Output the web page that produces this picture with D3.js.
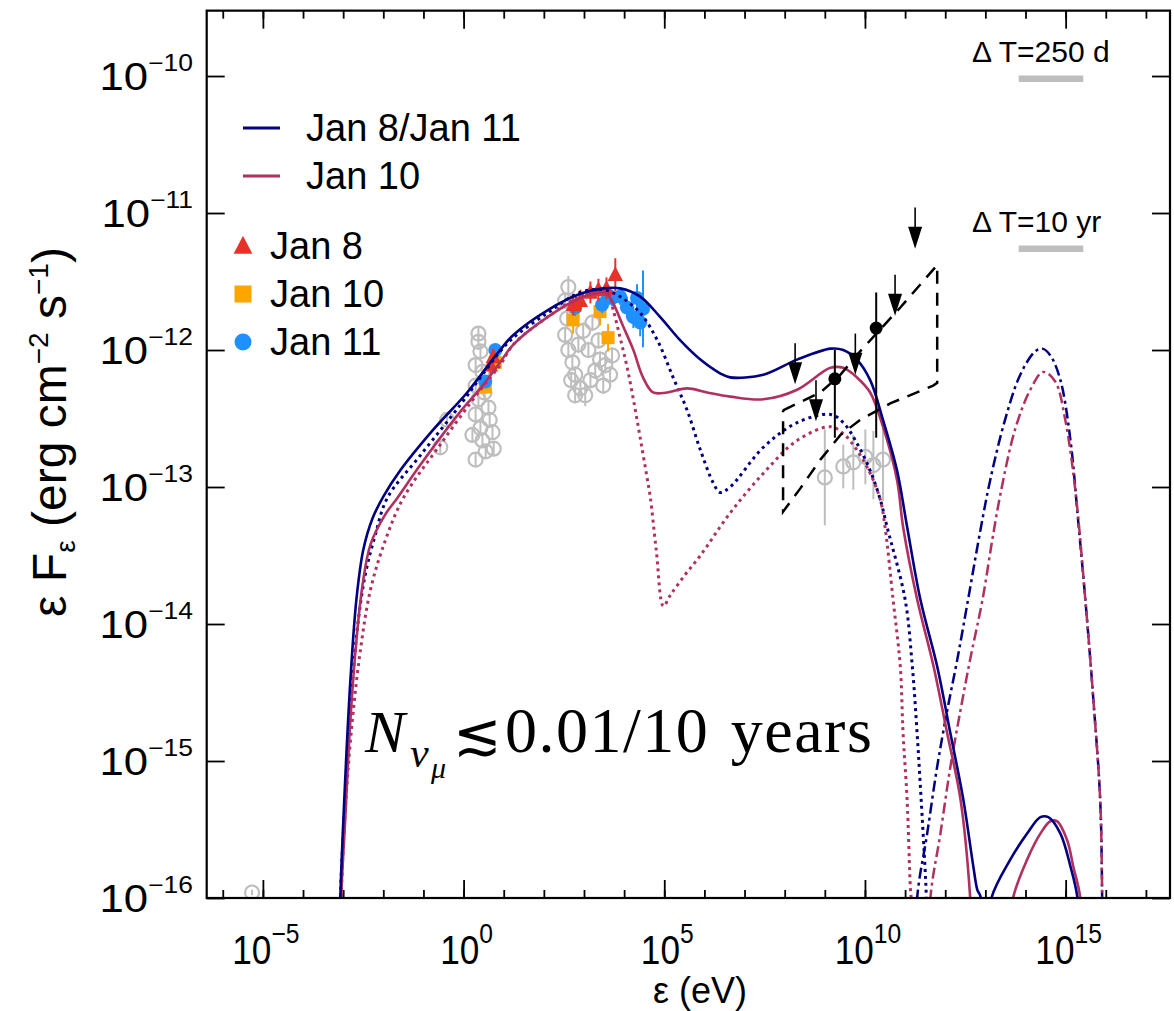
<!DOCTYPE html>
<html><head><meta charset="utf-8">
<script src="https://cdn.jsdelivr.net/npm/d3@7"></script>
<style>body{margin:0;background:#fff}</style>
</head><body>
<svg id="c" width="1174" height="1011"></svg>
<script>
// ---------- data (log10 E [eV], log10 eF [erg cm^-2 s^-1]) ----------
const xMajorExp = [-5, 0, 5, 10, 15];
const xMinorExp = d3.range(-6, 18);
const yMajorExp = [-16, -15, -14, -13, -12, -11, -10];

const navyTotal = [[-3.09,-16.5],[-3.07,-16.0],[-2.95,-15.14],[-2.82,-14.41],[-2.67,-13.82],[-2.50,-13.46],[-2.27,-13.23],[-2.00,-13.07],[-1.58,-12.88],[-0.75,-12.58],[0.09,-12.31],[0.91,-12.00],[1.24,-11.89],[2.09,-11.71],[2.91,-11.59],[3.48,-11.55],[3.90,-11.55],[4.40,-11.61],[4.90,-11.76],[5.40,-11.93],[5.90,-12.07],[6.39,-12.17],[6.64,-12.20],[7.47,-12.18],[8.31,-12.07],[9.14,-11.99],[9.46,-12.00],[9.80,-12.07],[10.13,-12.22],[10.45,-12.51],[10.80,-12.88],[11.05,-13.29],[11.38,-13.82],[11.80,-14.31],[12.13,-14.80],[12.45,-15.28],[12.70,-15.77],[12.80,-15.94],[12.88,-15.99],[12.95,-16.3],[13.05,-16.3],[13.15,-16.0],[13.62,-15.72],[14.04,-15.53],[14.37,-15.41],[14.57,-15.41],[14.87,-15.53],[15.12,-15.77],[15.29,-15.99],[15.36,-16.4]];
const navySync = [[-3.09,-16.5],[-3.07,-16.0],[-2.95,-15.28],[-2.82,-14.63],[-2.65,-14.04],[-2.45,-13.64],[-2.20,-13.35],[-1.90,-13.08],[-1.08,-12.77],[-0.08,-12.40],[0.42,-12.20],[0.91,-12.01],[1.24,-11.91],[2.09,-11.73],[2.91,-11.58],[3.48,-11.56],[3.90,-11.61],[4.40,-11.73],[4.83,-11.93],[5.22,-12.20],[5.57,-12.44],[5.90,-12.73],[6.22,-12.97],[6.39,-13.04],[6.64,-13.00],[7.47,-12.71],[8.31,-12.53],[9.14,-12.47],[9.46,-12.53],[9.80,-12.68],[10.13,-12.88],[10.38,-13.09],[10.55,-13.29],[11.00,-13.82],[11.18,-14.31],[11.30,-14.80],[11.40,-15.28],[11.50,-15.80],[11.53,-16.0],[11.56,-16.5]];
const maroonTotal = [[-3.07,-16.5],[-3.05,-16.0],[-2.95,-15.43],[-2.82,-14.70],[-2.67,-14.12],[-2.52,-13.72],[-2.32,-13.42],[-1.95,-13.20],[-1.65,-13.08],[-1.08,-12.84],[-0.08,-12.45],[0.42,-12.28],[0.91,-12.09],[1.24,-11.96],[2.09,-11.76],[2.91,-11.62],[3.48,-11.58],[3.60,-11.60],[3.73,-11.66],[3.98,-11.83],[4.23,-12.00],[4.47,-12.20],[4.72,-12.31],[5.07,-12.31],[5.57,-12.28],[6.07,-12.31],[6.64,-12.34],[7.47,-12.36],[8.31,-12.29],[9.14,-12.13],[9.46,-12.13],[9.80,-12.20],[10.13,-12.31],[10.45,-12.56],[10.80,-12.95],[10.95,-13.29],[11.30,-13.82],[11.71,-14.31],[12.05,-14.80],[12.38,-15.28],[12.62,-15.99],[12.66,-16.3],[13.6,-16.3],[13.69,-16.0],[14.04,-15.72],[14.37,-15.53],[14.62,-15.44],[14.79,-15.44],[15.04,-15.58],[15.19,-15.77],[15.36,-15.99],[15.42,-16.4]];
const maroonSync = [[-3.07,-16.5],[-3.05,-16.0],[-2.93,-15.28],[-2.77,-14.70],[-2.57,-14.19],[-2.32,-13.75],[-1.95,-13.39],[-1.50,-13.08],[-0.58,-12.69],[0.42,-12.29],[0.91,-12.11],[1.24,-11.96],[2.09,-11.76],[2.91,-11.61],[3.58,-11.58],[3.73,-11.71],[3.90,-11.91],[4.07,-12.12],[4.23,-12.36],[4.40,-12.64],[4.57,-12.93],[4.65,-13.07],[4.80,-13.46],[4.98,-13.87],[5.15,-13.79],[5.52,-13.64],[5.90,-13.50],[6.64,-13.19],[7.47,-12.90],[8.31,-12.66],[9.14,-12.56],[9.46,-12.61],[9.80,-12.73],[10.13,-12.90],[10.38,-13.09],[10.50,-13.29],[10.70,-13.82],[10.88,-14.31],[10.95,-14.80],[11.05,-15.28],[11.13,-15.92],[11.15,-16.0],[11.17,-16.5]];
const navyNu = [[11.28,-16.5],[11.30,-16.0],[11.55,-15.53],[11.80,-15.04],[12.05,-14.63],[12.30,-14.26],[12.57,-13.82],[12.88,-13.31],[13.12,-12.95],[13.49,-12.51],[13.87,-12.18],[14.24,-12.01],[14.42,-11.99],[14.62,-12.04],[14.87,-12.22],[15.12,-12.66],[15.31,-13.24],[15.49,-13.82],[15.69,-14.55],[15.86,-15.28],[15.91,-16.0],[15.92,-16.5]];
const maroonNu = [[11.61,-16.5],[11.63,-16.0],[11.88,-15.53],[12.13,-15.04],[12.38,-14.63],[12.62,-14.26],[12.93,-13.82],[13.17,-13.39],[13.37,-13.06],[13.74,-12.58],[14.12,-12.29],[14.44,-12.16],[14.74,-12.23],[14.99,-12.51],[15.24,-13.02],[15.49,-13.82],[15.69,-14.55],[15.86,-15.28],[15.91,-16.0],[15.92,-16.5]];

// butterfly (Fermi-LAT bowtie) boundaries, dashed black
const bowtieUpper = [[7.96,-12.44],[8.39,-12.38],[8.89,-12.31],[9.39,-12.18],[9.88,-12.01],[10.38,-11.85],[10.88,-11.69],[11.80,-11.38]];
const bowtieLower = [[7.96,-13.18],[8.39,-13.01],[8.89,-12.80],[9.39,-12.62],[9.88,-12.51],[10.63,-12.39],[11.70,-12.26],[11.80,-12.24]];

// archival data (grey open circles): [logE, logF, err]
const archival = [[-5.27,-15.96,0.02],[-0.58,-12.71,0.05],[-0.41,-12.51,0.05],[0.37,-11.88,0.05],[0.37,-11.94,0.05],[0.42,-12.01,0.05],[0.30,-12.11,0.05],[0.47,-12.16,0.05],[0.30,-12.26,0.05],[0.52,-12.31,0.05],[0.37,-12.36,0.05],[0.62,-12.42,0.05],[0.30,-12.47,0.05],[0.65,-12.51,0.05],[0.42,-12.57,0.05],[0.72,-12.60,0.05],[0.47,-12.66,0.05],[0.75,-12.72,0.05],[0.55,-12.74,0.05],[0.30,-12.80,0.05],[0.22,-12.62,0.05],
[2.61,-11.54,0.08],[2.53,-11.64,0.06],[2.58,-11.77,0.06],[2.53,-11.89,0.06],[2.61,-12.00,0.06],[2.71,-12.09,0.06],[2.78,-12.18,0.06],[2.91,-12.28,0.06],[3.03,-12.33,0.08],[3.16,-12.22,0.06],[3.28,-12.15,0.06],[3.40,-12.07,0.06],[3.53,-12.11,0.06],[3.65,-12.18,0.06],[3.70,-12.04,0.06],[3.11,-12.00,0.06],[2.86,-11.96,0.06],[3.36,-11.93,0.06],[2.98,-11.86,0.06],[3.21,-11.80,0.06],[2.78,-12.33,0.06],[3.48,-12.26,0.06],[2.68,-12.22,0.06],
[9.00,-12.93,0.35],[9.46,-12.85,0.16],[9.71,-12.82,0.2],[10.01,-12.78,0.2],[10.21,-12.84,0.25],[10.45,-12.80,0.3]];

// simultaneous data: [logE, logF, err]
const jan8 = [[0.67,-12.11,0.06],[0.74,-12.05,0.06],[2.73,-11.67,0.08],[2.91,-11.64,0.08],[3.16,-11.58,0.08],[3.36,-11.56,0.08],[3.56,-11.55,0.08],[3.78,-11.45,0.12]];
const jan10 = [[0.54,-12.27,0.05],[0.79,-12.09,0.05],[2.73,-11.78,0.1],[3.40,-11.72,0.1],[3.60,-11.91,0.1]];
const jan11 = [[0.54,-12.23,0.04],[0.79,-12.00,0.04],[2.78,-11.69,0.06],[3.45,-11.67,0.06],[3.58,-11.62,0.06],[3.70,-11.62,0.06],[3.90,-11.61,0.06],[4.07,-11.69,0.08],[4.23,-11.76,0.08],[4.32,-11.62,0.1],[4.40,-11.80,0.1],[4.47,-11.70,0.28]];

// LAT detections [logE, logF, logHi, logLo] and upper limits [logE, logF]
const latPoints = [[9.25,-12.21,-12.00,-12.64],[10.28,-11.84,-11.58,-12.64]];
const latUL = [[8.26,-11.95],[8.78,-12.22],[9.76,-11.88],[10.75,-11.45],[11.25,-10.96]];

// time-scale bars: [label, logE1, logE2, logF]
const dtBars = [["Δ T=250 d",13.83,15.44,-10.02],["Δ T=10 yr",13.83,15.44,-11.26]];

const curveLegend = [["Jan 8/Jan 11","#000080"],["Jan 10","#B03060"]];
const markerLegend = [["Jan 8","#E5332A","tri"],["Jan 10","#FFA500","sq"],["Jan 11","#1E90FF","circ"]];

// ---------- drawing ----------
const svg = d3.select("#c");
svg.append("rect").attr("width",1174).attr("height",1011).attr("fill","#fff");
const P = {l:206.7, r:1170, t:10.65, b:898};
const x = d3.scaleLog().domain([10**-6.4, 10**17.6]).range([P.l, P.r]);
const y = d3.scaleLog().domain([1e-16, 3e-10]).range([P.b, P.t]);
const X = e => x(10**e), Y = f => y(10**f);
const FONT = "'Liberation Sans', Arial, Helvetica, sans-serif";

svg.append("clipPath").attr("id","clip").append("rect")
  .attr("x",P.l).attr("y",P.t).attr("width",P.r-P.l).attr("height",P.b-P.t);

const plot = svg.append("g").attr("clip-path","url(#clip)");
const line = d3.line().x(d=>X(d[0])).y(d=>Y(d[1])).curve(d3.curveCatmullRom.alpha(0.5));

// archival grey
const gA = plot.append("g");
archival.forEach(d=>{
  gA.append("line").attr("x1",X(d[0])).attr("x2",X(d[0])).attr("y1",Y(d[1]+d[2])).attr("y2",Y(d[1]-d[2]))
    .attr("stroke","#BEBEBE").attr("stroke-width",2);
});
archival.forEach(d=>{
  gA.append("circle").attr("cx",X(d[0])).attr("cy",Y(d[1])).attr("r",7)
    .attr("fill","none").attr("stroke","#BEBEBE").attr("stroke-width",2.2);
});

// colored data
function marker(g, type, cx, cy, color, s){
  if(type==="tri") g.append("path").attr("d",`M${cx},${cy-s*0.6}L${cx+s*0.55},${cy+s*0.45}L${cx-s*0.55},${cy+s*0.45}Z`).attr("fill",color);
  else if(type==="sq") g.append("rect").attr("x",cx-s/2).attr("y",cy-s/2).attr("width",s).attr("height",s).attr("fill",color);
  else g.append("circle").attr("cx",cx).attr("cy",cy).attr("r",s/2).attr("fill",color);
}
const gD = plot.append("g");
[[jan10,"#FFA500","sq",13],[jan11,"#1E90FF","circ",14],[jan8,"#E5332A","tri",14]].forEach(([arr,col,t,s])=>{
  arr.forEach(d=>{
    gD.append("line").attr("x1",X(d[0])).attr("x2",X(d[0])).attr("y1",Y(d[1]+d[2])).attr("y2",Y(d[1]-d[2]))
      .attr("stroke",col).attr("stroke-width",2);
    marker(gD,t,X(d[0]),Y(d[1]),col,s);
  });
});

// model curves
const curves = [
  [navySync,"#000080","3,4",3],[maroonSync,"#B03060","3,4",3],
  [navyNu,"#000080","11,4,3,4",2.5],[maroonNu,"#B03060","11,4,3,4",2.5],
  [maroonTotal,"#B03060",null,2.6],[navyTotal,"#000080",null,2.6]
];
curves.forEach(([d,c,dash,w])=>{
  const p = plot.append("path").attr("d",line(d)).attr("fill","none").attr("stroke",c).attr("stroke-width",w);
  if(dash) p.attr("stroke-dasharray",dash);
});

// bowtie
const bowPts = bowtieUpper.concat(bowtieLower.slice().reverse(), [bowtieUpper[0]]);
plot.append("path").attr("d",d3.line().x(d=>X(d[0])).y(d=>Y(d[1])).curve(d3.curveLinear)(bowPts))
  .attr("fill","none").attr("stroke","#000").attr("stroke-width",2.5).attr("stroke-dasharray","13,9");

// LAT points
latPoints.forEach(d=>{
  plot.append("line").attr("x1",X(d[0])).attr("x2",X(d[0])).attr("y1",Y(d[2])).attr("y2",Y(d[3])).attr("stroke","#000").attr("stroke-width",2);
  plot.append("circle").attr("cx",X(d[0])).attr("cy",Y(d[1])).attr("r",6.5).attr("fill","#000");
});
latUL.forEach(d=>{
  const cx=X(d[0]), y0=Y(d[1]), y1=Y(d[1]-0.3);
  plot.append("line").attr("x1",cx).attr("x2",cx).attr("y1",y0).attr("y2",y1-10).attr("stroke","#000").attr("stroke-width",1.6);
  plot.append("path").attr("d",`M${cx-7},${y1-22}L${cx+7},${y1-22}L${cx},${y1}Z`).attr("fill","#000");
});

// axes (ticks inward)
function axisG(gen, tr){ const g=svg.append("g").attr("transform",tr).call(gen); g.select(".domain").remove(); g.selectAll("line").attr("stroke","#000").attr("stroke-width",1.8); return g;}
axisG(d3.axisBottom(x).tickValues(xMinorExp.map(e=>10**e)).tickSize(-8).tickFormat(""), `translate(0,${P.b})`);
axisG(d3.axisBottom(x).tickValues(xMajorExp.map(e=>10**e)).tickSize(-18).tickFormat(""), `translate(0,${P.b})`);
axisG(d3.axisTop(x).tickValues(xMinorExp.map(e=>10**e)).tickSize(-8).tickFormat(""), `translate(0,${P.t})`);
axisG(d3.axisTop(x).tickValues(xMajorExp.map(e=>10**e)).tickSize(-18).tickFormat(""), `translate(0,${P.t})`);
axisG(d3.axisLeft(y).tickValues(yMajorExp.map(e=>10**e)).tickSize(-18).tickFormat(""), `translate(${P.l},0)`);
axisG(d3.axisRight(y).tickValues(yMajorExp.map(e=>10**e)).tickSize(-18).tickFormat(""), `translate(${P.r},0)`);
svg.append("rect").attr("x",P.l).attr("y",P.t).attr("width",P.r-P.l).attr("height",P.b-P.t)
  .attr("fill","none").attr("stroke","#000").attr("stroke-width",2.2);

function powText(g, e, main, sup, dy, anchor){
  const t = g.append("text").attr("font-family",FONT).attr("text-anchor",anchor).attr("fill","#000");
  t.append("tspan").attr("font-size",main).text("10");
  t.append("tspan").attr("font-size",sup).attr("dy",-dy).text(e<0?"\u2212"+(-e):String(e));
}
yMajorExp.forEach(e=>{
  const g = svg.append("g").attr("transform",`translate(193,${Y(e)+14}) scale(1.15,1)`);
  powText(g,e,38,23,19,"end");
});
xMajorExp.forEach(e=>{
  const g = svg.append("g").attr("transform",`translate(${X(e)+3},${964}) scale(0.88,1)`);
  powText(g,e,40,28,21,"middle");
});

// axis titles
svg.append("text").attr("x",700).attr("y",1003).attr("text-anchor","middle").attr("font-family",FONT)
  .attr("font-size",36).text("ε (eV)");
const yt = svg.append("text").attr("transform","translate(66,432) rotate(-90)").attr("text-anchor","middle")
  .attr("font-family",FONT).attr("font-size",48);
yt.append("tspan").text("ε F");
yt.append("tspan").attr("font-size",28).attr("dy",9).text("ε");
yt.append("tspan").attr("dy",-9).text(" (erg cm");
yt.append("tspan").attr("font-size",28).attr("dy",-18).text("−2");
yt.append("tspan").attr("dy",18).text(" s");
yt.append("tspan").attr("font-size",28).attr("dy",-18).text("−1");
yt.append("tspan").attr("dy",18).text(")");

// legends
curveLegend.forEach(([lab,col],i)=>{
  const yy = 128 + i*48;
  svg.append("line").attr("x1",243).attr("x2",280).attr("y1",yy).attr("y2",yy).attr("stroke",col).attr("stroke-width",3);
  svg.append("text").attr("x",306).attr("y",yy+13).attr("font-family",FONT).attr("font-size",38).text(lab);
});
markerLegend.forEach(([lab,col,t],i)=>{
  const yy = 246 + i*48;
  marker(svg,t,243,yy,col,17);
  svg.append("text").attr("x",270).attr("y",yy+13).attr("font-family",FONT).attr("font-size",38).text(lab);
});

// delta T annotations
dtBars.forEach(([lab,e1,e2,f])=>{
  svg.append("line").attr("x1",X(e1)).attr("x2",X(e2)).attr("y1",Y(f)).attr("y2",Y(f)).attr("stroke","#BEBEBE").attr("stroke-width",6.5);
  svg.append("text").attr("x",972).attr("y",Y(f)-17).attr("font-family",FONT).attr("font-size",30).text(lab);
});

// big annotation
const SERIF = "'Liberation Serif','Times New Roman',serif";
svg.append("text").attr("x",365).attr("y",752).attr("font-family",SERIF).attr("font-style","italic").attr("font-size",60).text("N");
svg.append("text").attr("x",410).attr("y",767).attr("font-family",SERIF).attr("font-style","italic").attr("font-size",42).text("ν");
svg.append("text").attr("x",431).attr("y",778).attr("font-family",SERIF).attr("font-style","italic").attr("font-size",30).text("μ");
svg.append("text").attr("x",453).attr("y",754).attr("font-family",SERIF).attr("font-size",58).text("≲");
svg.append("text").attr("x",505).attr("y",752).attr("font-family",SERIF).attr("font-size",64)
  .attr("letter-spacing",1.5).attr("word-spacing",4).text("0.01/10 years");
</script>
</body></html>
